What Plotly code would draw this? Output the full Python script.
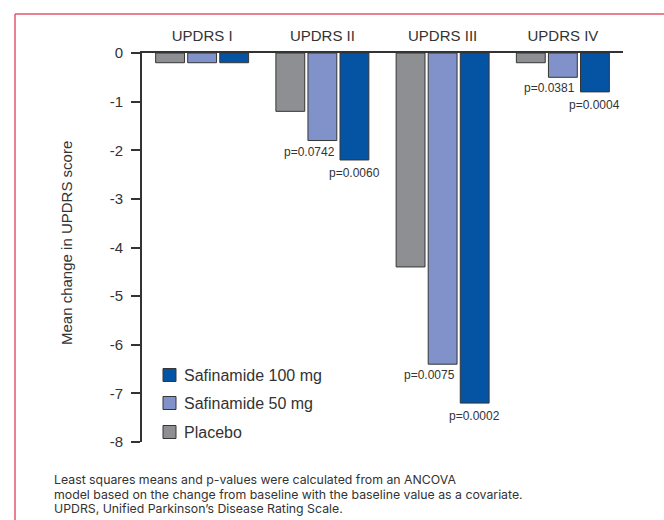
import plotly.graph_objects as go

# Mean change from baseline in UPDRS subscale scores
categories = ["UPDRS I", "UPDRS II", "UPDRS III", "UPDRS IV"]
placebo = [-0.2, -1.2, -4.4, -0.2]
safi_50 = [-0.2, -1.8, -6.4, -0.5]
safi_100 = [-0.2, -2.2, -7.2, -0.8]

# p-values versus placebo (None where no value is reported)
p_50 = [None, "p=0.0742", "p=0.0075", "p=0.0381"]
p_100 = [None, "p=0.0060", "p=0.0002", "p=0.0004"]

series_names = ["Placebo", "Safinamide 50 mg", "Safinamide 100 mg"]
colors = ["#8e8f92", "#8092c9", "#0553a3"]

y_tick_values = [0, -1, -2, -3, -4, -5, -6, -7, -8]
y_tick_labels = ["0", "-1", "-2", "-3", "-4", "-5", "-6", "-7", "-8"]
y_title = "Mean change in UPDRS score"

footnote_lines = [
    "Least squares means and p-values were calculated from an ANCOVA",
    "model based on the change from baseline with the baseline value as a covariate.",
    "UPDRS, Unified Parkinson\u2019s Disease Rating Scale.",
]

W, H = 664, 520
L, R, T, B = 142, 41, 53, 78
PW, PH = W - L - R, H - T - B
BARGAP, GROUPGAP = 0.2, 0.1
TEXT = "#333333"
FONT = "Liberation Sans, Arial, sans-serif"
NOTE_FONT = "Inter, Liberation Sans, Arial, sans-serif"


def px_x(px):
    return (px - L) / PW


def px_y(py):
    return 1 - (py - T) / PH


fig = go.Figure()
for name, vals, col in zip(series_names, [placebo, safi_50, safi_100], colors):
    fig.add_trace(go.Bar(
        x=categories, y=vals, name=name,
        marker=dict(color=col, line=dict(color="#363636", width=1)),
        showlegend=False,
    ))

# bar geometry on the category axis
slot = (1 - BARGAP) / 3
half_bar = slot * (1 - GROUPGAP) / 2

annotations = []
for i in range(len(categories)):
    if p_50[i]:
        annotations.append(dict(
            x=i + half_bar, y=safi_50[i], xref="x", yref="y",
            text=p_50[i], showarrow=False, xanchor="right", yanchor="middle",
            yshift=-11, font=dict(size=12, color=TEXT, family=FONT),
        ))
    if p_100[i]:
        annotations.append(dict(
            x=i + slot, y=safi_100[i], xref="x", yref="y",
            text=p_100[i], showarrow=False, xanchor="center", yanchor="middle",
            yshift=-13, font=dict(size=12, color=TEXT, family=FONT),
        ))

# y-axis title
annotations.append(dict(
    x=px_x(66.5), y=px_y(243.5), xref="paper", yref="paper",
    text=y_title, textangle=-90, showarrow=False,
    xanchor="center", yanchor="middle",
    font=dict(size=15, color=TEXT, family=FONT),
))

# legend: swatches and labels, top entry first
shapes = []
legend_rows = [(series_names[2], colors[2], 375), (series_names[1], colors[1], 403),
               (series_names[0], colors[0], 432)]
for name, col, cy in legend_rows:
    shapes.append(dict(
        type="rect", xref="paper", yref="paper",
        x0=px_x(163), x1=px_x(176), y0=px_y(cy + 6.5), y1=px_y(cy - 6.5),
        fillcolor=col, line=dict(color="#363636", width=1),
    ))
    annotations.append(dict(
        x=px_x(182), y=px_y(cy), xref="paper", yref="paper",
        text=name, showarrow=False, xanchor="left", yanchor="middle",
        font=dict(size=16, color=TEXT, family=FONT),
    ))

# footnote
for k, line in enumerate(footnote_lines):
    annotations.append(dict(
        x=px_x(52), y=px_y(479.5 + k * 14.5), xref="paper", yref="paper",
        text=line, showarrow=False, xanchor="left", yanchor="middle",
        font=dict(size=12.3, color=TEXT, family=NOTE_FONT),
    ))

# frame lines along the top and left edges
shapes.append(dict(type="line", xref="paper", yref="paper",
                   x0=px_x(15), x1=px_x(W + 5), y0=px_y(14), y1=px_y(14),
                   line=dict(color="#e2566f", width=1.5)))
shapes.append(dict(type="line", xref="paper", yref="paper",
                   x0=px_x(15), x1=px_x(15), y0=px_y(14), y1=px_y(H + 5),
                   line=dict(color="#e2566f", width=1.5)))

fig.update_layout(
    width=W, height=H,
    margin=dict(l=L, r=R, t=T, b=B, autoexpand=False),
    paper_bgcolor="white", plot_bgcolor="white",
    barmode="group", bargap=BARGAP, bargroupgap=GROUPGAP,
    font=dict(family=FONT, color=TEXT, size=15),
    xaxis=dict(
        type="category", side="top", range=[-0.5, 3.5],
        showline=True, linecolor="#333333", linewidth=1.5,
        ticks="", showgrid=False, zeroline=False,
        tickfont=dict(size=15, color=TEXT), ticklabelstandoff=4,
    ),
    yaxis=dict(
        range=[-8, 0], tickvals=y_tick_values, ticktext=y_tick_labels,
        showline=True, linecolor="#333333", linewidth=2,
        ticks="outside", ticklen=9, tickwidth=2, tickcolor="#333333",
        showgrid=False, zeroline=False,
        tickfont=dict(size=15, color=TEXT), ticklabelstandoff=5,
    ),
    shapes=shapes,
    annotations=annotations,
)

fig.write_html("out.html")
